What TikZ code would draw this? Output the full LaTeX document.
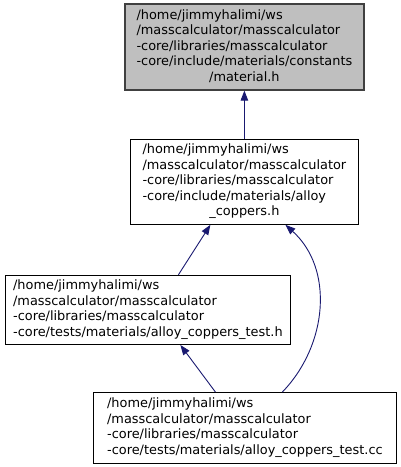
\documentclass[tikz,border=0pt]{standalone}
\usepackage{fontspec}
\setmainfont{DejaVu Sans}
\usepackage{tikz}
\usetikzlibrary{arrows.meta,positioning}
\definecolor{edgeblue}{HTML}{191970}
\definecolor{boxgray}{HTML}{BFBFBF}
\definecolor{boxline}{HTML}{404040}

\begin{document}
\begin{tikzpicture}[
  node distance=48pt,
  file/.style={draw=black,line width=1.2pt,inner sep=0pt,
               font=\fontsize{12.9pt}{15.5pt}\selectfont},
  current/.style={file,draw=boxline,fill=boxgray},
  incl/.style={-{Triangle[length=10pt,width=7.5pt]},line width=0.9pt,draw=edgeblue}
]
\useasboundingbox (0,0) rectangle (401pt,-467pt);
\node[current,minimum width=239pt,minimum height=86pt] (material) at (244.4pt,-47pt)
  {\begin{tabular}{@{}l@{}}/home/jimmyhalimi/ws\\/masscalculator/masscalculator\\-core/libraries/masscalculator\\-core/include/materials/constants\\\multicolumn{1}{@{}c@{}}{/material.h}\end{tabular}};
\node[file,minimum width=228pt,minimum height=85pt,below=48pt of material] (coppers)
  {\begin{tabular}{@{}l@{}}/home/jimmyhalimi/ws\\/masscalculator/masscalculator\\-core/libraries/masscalculator\\-core/include/materials/alloy\\\multicolumn{1}{@{}c@{}}{\_coppers.h}\end{tabular}};
\node[file,minimum width=285pt,minimum height=69pt,below=50pt of coppers,xshift=-96.5pt] (test)
  {\begin{tabular}{@{}l@{}}/home/jimmyhalimi/ws\\/masscalculator/masscalculator\\-core/libraries/masscalculator\\-core/tests/materials/alloy\_coppers\_test.h\end{tabular}};
\node[file,minimum width=303pt,minimum height=71pt,below=47pt of test,xshift=97pt] (testcc)
  {\begin{tabular}{@{}l@{}}/home/jimmyhalimi/ws\\/masscalculator/masscalculator\\-core/libraries/masscalculator\\-core/tests/materials/alloy\_coppers\_test.cc\end{tabular}};
\draw[incl] (coppers) -- (material);
\draw[incl] ([xshift=30.5pt]test.north) -- ([xshift=-34pt]coppers.south);
\draw[incl] ([xshift=37.5pt]testcc.north) to[out=46,in=-42] ([xshift=41pt]coppers.south);
\draw[incl] ([xshift=-29.5pt]testcc.north) -- ([xshift=32.5pt]test.south);
\end{tikzpicture}
\end{document}
